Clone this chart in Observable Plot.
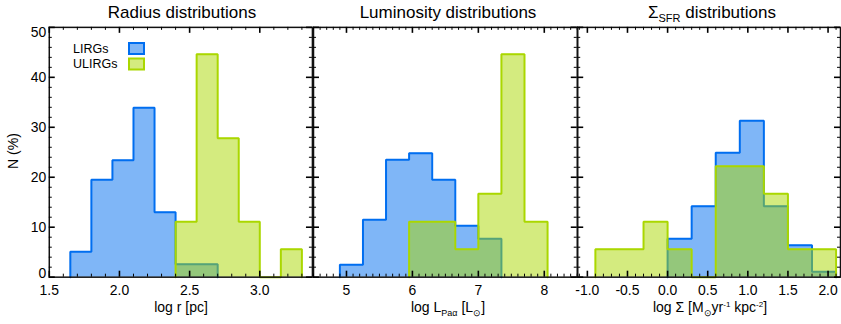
<!DOCTYPE html>
<html>
<head>
<meta charset="utf-8">
<script src="https://cdn.jsdelivr.net/npm/d3@7"></script>
<script src="https://cdn.jsdelivr.net/npm/@observablehq/plot@0.6"></script>
<style>
  body { margin: 0; background: #fff; }
  #chart { position: relative; width: 841px; height: 324px; overflow: hidden; background: #fff;
           font-family: "Liberation Sans", Arial, sans-serif; color: #000; }
  #chart svg { position: absolute; left: 0; top: 0; }
</style>
</head>
<body>
<div id="chart"></div>
<script>
// Samples and their colours
const seriesNames = ["LIRGs", "ULIRGs"];
const seriesColors = ["rgb(0,110,240)", "rgb(170,215,0)"];

// Radius histogram: bin edges in log r [pc], percentages per bin
const radiusEdgesLirg = [1.65, 1.80, 1.95, 2.10, 2.25, 2.40, 2.55, 2.70];
const radiusLirg = [5.1, 19.5, 23.4, 33.9, 13.0, 2.6, 2.6];
const radiusEdgesUlirg = [2.40, 2.55, 2.70, 2.85, 3.00, 3.15, 3.30];
const radiusUlirg = [11.1, 44.6, 27.8, 11.1, 0, 5.6];

// Pa-alpha luminosity histogram: bin edges in log L [Lsun]
const lumEdgesLirg = [4.90, 5.25, 5.60, 5.95, 6.30, 6.65, 7.00, 7.35];
const lumLirg = [2.5, 11.5, 23.5, 24.8, 19.5, 10.3, 7.7];
const lumEdgesUlirg = [5.95, 6.30, 6.65, 7.00, 7.35, 7.70, 8.05];
const lumUlirg = [11.1, 11.1, 5.6, 16.7, 44.6, 11.1];

// SFR surface density histogram: bin edges in log Sigma
const sfrEdgesLirg = [0.0, 0.3, 0.6, 0.9, 1.2, 1.5, 1.8, 2.1];
const sfrLirg = [7.7, 14.2, 24.9, 31.3, 14.2, 6.4, 1.1];
const sfrEdgesUlirg = [-0.9, -0.6, -0.3, 0.0, 0.3, 0.6, 0.9, 1.2, 1.5, 1.8, 2.1];
const sfrUlirg = [5.6, 5.6, 11.1, 5.6, 0, 22.2, 22.2, 16.7, 5.6, 5.6];

// Axis tick labels
const radiusTicks = [1.5, 2.0, 2.5, 3.0];
const lumTicks = [5, 6, 7, 8];
const sfrTicks = [-1.0, -0.5, 0.0, 0.5, 1.0, 1.5, 2.0];
const percentTicks = [0, 10, 20, 30, 40, 50];

const W = 845, H = 324, TOP = 27, BOTTOM = 278, FH = BOTTOM - TOP;

// Histogram outline: baseline, then each bin's top edge, then back to baseline
function stepOutline(edges, values) {
  const pts = [{x: edges[0], y: 0}];
  values.forEach((v, i) => { pts.push({x: edges[i], y: v}, {x: edges[i + 1], y: v}); });
  pts.push({x: edges[edges.length - 1], y: 0});
  return pts;
}
function steps(lo, hi, step) {
  const out = [];
  for (let i = Math.ceil(lo / step - 1e-9); i * step <= hi + 1e-9; i++) out.push(+(i * step).toFixed(6));
  return out;
}

function panel({left, right, domain, series, majors, minorStep, majorStep, fmt, yAxis}) {
  const fw = right - left;
  const marks = [];
  series.forEach(([edges, values], k) => {
    const pts = stepOutline(edges, values);
    marks.push(Plot.area(pts, {
      x1: "x", y1: () => 0, y2: "y", curve: "linear",
      fill: seriesColors[k], fillOpacity: 0.5
    }));
    marks.push(Plot.line(pts, {
      x: "x", y: "y", stroke: seriesColors[k], strokeWidth: 2, strokeLinejoin: "miter"
    }));
  });
  const xMaj = steps(domain[0], domain[1], majorStep);
  const xMin = steps(domain[0], domain[1], minorStep).filter(v => !xMaj.some(m => Math.abs(m - v) < 1e-6));
  const yMaj = steps(0, 50, 10);
  const yMin = steps(0, 50, 2).filter(v => v % 10 !== 0);
  marks.push(
    Plot.frame({stroke: "#111", strokeWidth: 1.5}),
    Plot.tickX(xMin, {x: d => d, insetTop: FH - 3, stroke: "#000"}),
    Plot.tickX(xMin, {x: d => d, insetBottom: FH - 3, stroke: "#000"}),
    Plot.tickX(xMaj, {x: d => d, insetTop: FH - 6, stroke: "#000", strokeWidth: 1.6}),
    Plot.tickX(xMaj, {x: d => d, insetBottom: FH - 6, stroke: "#000", strokeWidth: 1.6}),
    Plot.tickY(yMin, {y: d => d, insetRight: fw - 3, stroke: "#000"}),
    Plot.tickY(yMin, {y: d => d, insetLeft: fw - 3, stroke: "#000"}),
    Plot.tickY(yMaj, {y: d => d, insetRight: fw - 6, stroke: "#000", strokeWidth: 1.6}),
    Plot.tickY(yMaj, {y: d => d, insetLeft: fw - 6, stroke: "#000", strokeWidth: 1.6}),
    Plot.axisX(majors, {tickSize: 0, tickPadding: 8, tickFormat: fmt, fontSize: 14, label: null})
  );
  if (yAxis) {
    const inner = percentTicks.slice(1, -1);
    marks.push(
      Plot.axisY(inner, {tickSize: 0, tickPadding: 3, fontSize: 14, label: null}),
      Plot.axisY([percentTicks[0]], {tickSize: 0, tickPadding: 3, fontSize: 14, label: null, dy: -4}),
      Plot.axisY([percentTicks[percentTicks.length - 1]], {tickSize: 0, tickPadding: 3, fontSize: 14, label: null, dy: 5})
    );
  }
  return Plot.plot({
    width: W, height: H,
    marginLeft: left, marginRight: W - right, marginTop: TOP, marginBottom: H - BOTTOM,
    x: {domain, axis: null},
    y: {domain: [0, 50], axis: null},
    style: {background: "transparent", fontFamily: "'Liberation Sans', Arial, sans-serif", color: "#000", overflow: "visible"},
    marks
  });
}

const root = document.getElementById("chart");
root.append(panel({
  left: 49, right: 313.4, domain: [1.5, 3.375],
  series: [[radiusEdgesLirg, radiusLirg], [radiusEdgesUlirg, radiusUlirg]],
  majors: radiusTicks, majorStep: 0.5, minorStep: 0.1, fmt: d => d.toFixed(1), yAxis: true
}));
root.append(panel({
  left: 314.5, right: 579.5, domain: [4.5, 8.5],
  series: [[lumEdgesLirg, lumLirg], [lumEdgesUlirg, lumUlirg]],
  majors: lumTicks, majorStep: 1, minorStep: 0.1, fmt: d => d.toFixed(0), yAxis: false
}));
root.append(panel({
  left: 580, right: 844, domain: [-1.12, 2.155],
  series: [[sfrEdgesLirg, sfrLirg], [sfrEdgesUlirg, sfrUlirg]],
  majors: sfrTicks, majorStep: 0.5, minorStep: 0.1, fmt: d => d.toFixed(1), yAxis: false
}));

// Titles, axis titles and legend
const ov = d3.select(root).append("svg")
  .attr("width", 841).attr("height", H)
  .style("font-family", "'Liberation Sans', Arial, sans-serif")
  .attr("fill", "#000");

// parts: strings, or [text, "sub"|"sup", size]
function richText(x, y, parts, size, attrs = {}) {
  const t = ov.append("text").attr("x", x).attr("y", y).attr("font-size", size).attr("text-anchor", "middle");
  Object.entries(attrs).forEach(([k, v]) => t.attr(k, v));
  let shift = 0;
  parts.forEach(p => {
    if (typeof p === "string") {
      t.append("tspan").attr("dy", -shift).text(p);
      shift = 0;
    } else {
      const [s, kind, sz] = p;
      const target = kind === "sub" ? 3.5 : -5;
      t.append("tspan").attr("dy", target - shift).attr("font-size", sz).text(s);
      shift = target;
    }
  });
  return t;
}

richText(182, 18, ["Radius distributions"], 17);
richText(448, 18, ["Luminosity distributions"], 17);
richText(712, 18, ["Σ", ["SFR", "sub", 11], " distributions"], 17);

richText(181, 312, ["log r [pc]"], 14);
richText(448, 312, ["log L", ["Paα", "sub", 9], " [L", ["⊙", "sub", 9], "]"], 14);
richText(710, 312, ["log Σ  [M", ["⊙", "sub", 9], "yr", ["-1", "sup", 8], " kpc", ["-2", "sup", 8], "]"], 14);

richText(0, 0, ["N (%)"], 14, {transform: "translate(18,151) rotate(-90)"});

const legendRows = [52.5, 68];
seriesNames.forEach((name, k) => {
  ov.append("text").attr("x", 73).attr("y", legendRows[k]).attr("font-size", 12.5).text(name);
  ov.append("rect")
    .attr("x", 129).attr("y", legendRows[k] - 9.5).attr("width", 15).attr("height", 11)
    .attr("fill", seriesColors[k]).attr("fill-opacity", 0.5)
    .attr("stroke", seriesColors[k]).attr("stroke-width", 2);
});
</script>
</body>
</html>
